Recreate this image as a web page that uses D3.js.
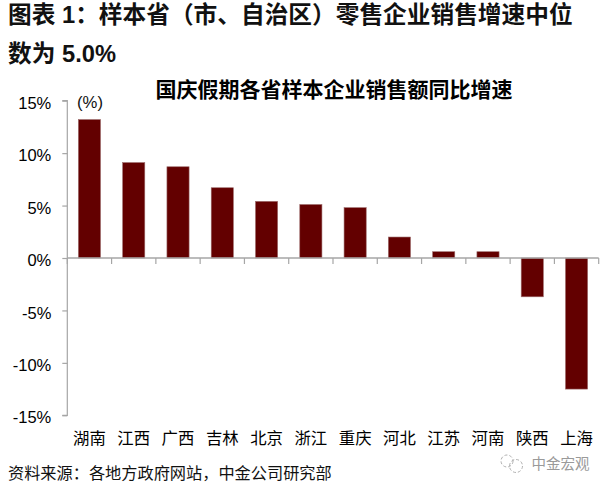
<!DOCTYPE html>
<html><head><meta charset="utf-8">
<script src="https://cdn.jsdelivr.net/npm/d3@7/dist/d3.min.js"></script>
<style>html,body{margin:0;padding:0;background:#fff}svg{display:block}
text{font-family:"Liberation Sans","Noto Sans CJK SC",sans-serif}</style>
</head><body><div id="c"></div>
<script>
const categories=["湖南","江西","广西","吉林","北京","浙江","重庆","河北","江苏","河南","陕西","上海"];
const values=[13.2,9.1,8.7,6.7,5.4,5.1,4.8,2.0,0.6,0.6,-3.7,-12.5];
const yTicks=[15,10,5,0,-5,-10,-15];
const titleLines=["图表 1：样本省（市、自治区）零售企业销售增速中位","数为 5.0%"];
const chartTitle="国庆假期各省样本企业销售额同比增速";
const unitLabel="(%)";
const sourceText="资料来源：各地方政府网站，中金公司研究部";
const watermark="中金宏观";

const svg=d3.select("#c").append("svg").attr("width",609).attr("height",490);
const y=d3.scaleLinear().domain([-15,15]).range([415.3,100.7]);
const x=d3.scaleBand().domain(categories).range([67.3,598.7]).paddingInner(0.5).paddingOuter(0.25);
const axisColor="#a6a6a6";

svg.append("g").selectAll("text").data(titleLines).join("text")
  .attr("x",8).attr("y",(d,i)=>23+i*39)
  .attr("font-size",23.7).attr("font-weight","bold").attr("fill","#111").text(d=>d);
svg.append("text").attr("x",334).attr("y",97).attr("text-anchor","middle")
  .attr("font-size",21).attr("font-weight","bold").attr("fill","#000").text(chartTitle);

svg.append("g").selectAll("rect").data(values).join("rect")
  .attr("x",(d,i)=>x(categories[i]))
  .attr("width",x.bandwidth())
  .attr("y",d=>y(Math.max(d,0)))
  .attr("height",d=>Math.abs(y(d)-y(0)))
  .attr("fill","#630000").attr("stroke","#9c6a6a").attr("stroke-width",0.6);

const yAxis=d3.axisLeft(y).tickValues(yTicks).tickFormat(d=>d+"%").tickSize(5).tickPadding(11);
const gy=svg.append("g").attr("transform","translate(67.3,0)").call(yAxis);
gy.selectAll("path").attr("stroke",axisColor).attr("stroke-width",1.2).attr("d",`M-5,${y(15)}H0V${y(-15)}H-5`);
gy.selectAll("line").attr("stroke",axisColor).attr("stroke-width",1.2);
gy.selectAll("text").attr("font-size",16.5).attr("fill","#000").attr("font-family",'"Liberation Sans",sans-serif').attr("dy","1.25em").attr("transform","translate(0,-13)");

const xEdges=d3.range(categories.length+1);
const edge=d3.scaleLinear().domain([0,categories.length]).range(x.range());
svg.append("line").attr("x1",edge(0)).attr("x2",edge(12)).attr("y1",y(0)).attr("y2",y(0))
  .attr("stroke",axisColor).attr("stroke-width",1.4);
svg.append("g").selectAll("line").data(xEdges).join("line")
  .attr("x1",d=>edge(d)).attr("x2",d=>edge(d)).attr("y1",y(0)).attr("y2",y(0)+6)
  .attr("stroke",axisColor).attr("stroke-width",1.2);

svg.append("g").selectAll("text").data(categories).join("text")
  .attr("x",d=>x(d)+x.bandwidth()/2).attr("y",444).attr("text-anchor","middle")
  .attr("font-size",16.4).attr("fill","#000").text(d=>d);

svg.append("text").attr("x",77).attr("y",107.5).attr("font-size",16.7).attr("fill","#111").text(unitLabel);
svg.append("text").attr("x",8).attr("y",479).attr("font-size",16.2).attr("fill","#111").text(sourceText);
svg.append("text").attr("x",531.5).attr("y",469).attr("font-size",14.5).attr("fill","#9a9a9a").text(watermark);

const icon=svg.append("g").attr("fill","none").attr("stroke","#b0b0b0").attr("stroke-width",1);
icon.append("circle").attr("cx",507).attr("cy",461).attr("r",6).attr("stroke-dasharray","3 2");
icon.append("circle").attr("cx",516).attr("cy",466).attr("r",6.5).attr("stroke-dasharray","3 2");
</script></body></html>
